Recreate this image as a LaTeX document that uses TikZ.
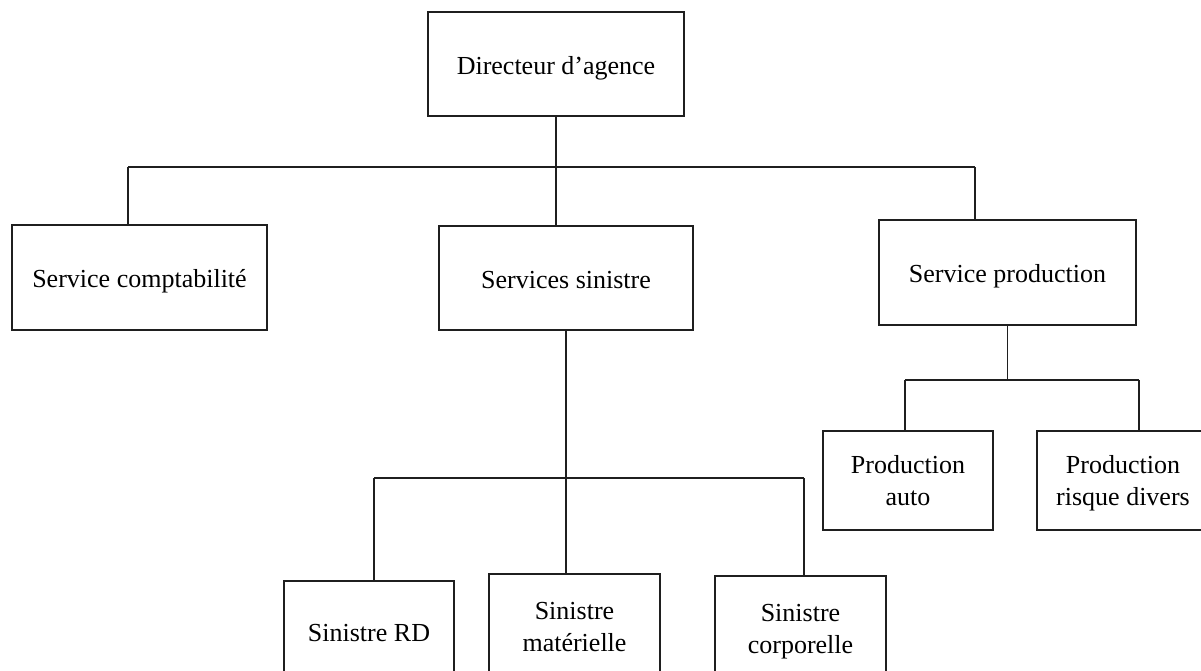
\documentclass[tikz,border=0pt]{standalone}
\usepackage{fontspec}
\setmainfont{Liberation Serif}
\begin{document}
\begin{tikzpicture}[x=1pt,y=-1pt,
  orgbox/.style={draw=black!88, line width=1.8pt, fill=white, align=center,
    font=\fontsize{26}{32}\selectfont, inner sep=0pt},
  oneline/.style={text height=26pt, text depth=6pt},
  twolines/.style={text height=54pt, text depth=4pt},
  link/.style={draw=black!88, line width=1.7pt}]
\useasboundingbox (0,0) rectangle (1201,670);
\clip (0,0) rectangle (1201,670);

% top level
\node[orgbox, oneline, minimum width=256pt, minimum height=104pt] (dir) at (556,64) {Directeur d’agence};

% second level
\node[orgbox, oneline, minimum width=255pt, minimum height=105pt] (compta) at (139.5,277.5) {Service comptabilité};
\node[orgbox, oneline, minimum width=254pt, minimum height=104pt] (sinistre) at (566,278) {Services sinistre};
\node[orgbox, oneline, minimum width=257pt, minimum height=105pt] (prod) at (1007.5,272.5) {Service production};

% production branch
\node[orgbox, twolines, minimum width=170pt, minimum height=99pt] (pauto) at (908,480.5) {Production\\auto};
\node[orgbox, twolines, minimum width=172pt, minimum height=99pt] (prisque) at (1123,480.5) {Production\\risque divers};

% claims branch
\node[orgbox, oneline, minimum width=170pt, minimum height=100pt] (srd) at (369,631) {Sinistre RD};
\node[orgbox, twolines, minimum width=171pt, minimum height=104pt] (smat) at (574.5,626) {Sinistre\\matérielle};
\node[orgbox, twolines, minimum width=171pt, minimum height=104pt] (scorp) at (800.5,628) {Sinistre\\corporelle};

% bus junctions
\coordinate (busL) at (128,167);
\coordinate (busR) at (975,167);
\coordinate (sbusL) at (374,478);
\coordinate (sbusR) at (804,478);
\coordinate (pbusL) at (905,380);
\coordinate (pbusR) at (1139,380);

% director to services
\draw[link] (dir.south) -- (dir.south |- sinistre.north);
\draw[link] (busL) -- (busR);
\draw[link] (busL) -- (busL |- compta.north);
\draw[link] (busR) -- (busR |- prod.north);

% services sinistre to its units
\draw[link] (sinistre.south) -- (sinistre.south |- smat.north);
\draw[link] (sbusL) -- (sbusR);
\draw[link] (sbusL) -- (sbusL |- srd.north);
\draw[link] (sbusR) -- (sbusR |- scorp.north);

% service production to its units
\draw[link] (prod.south) -- (prod.south |- pbusL);
\draw[link] (pbusL) -- (pbusR);
\draw[link] (pbusL) -- (pbusL |- pauto.north);
\draw[link] (pbusR) -- (pbusR |- prisque.north);
\end{tikzpicture}
\end{document}
